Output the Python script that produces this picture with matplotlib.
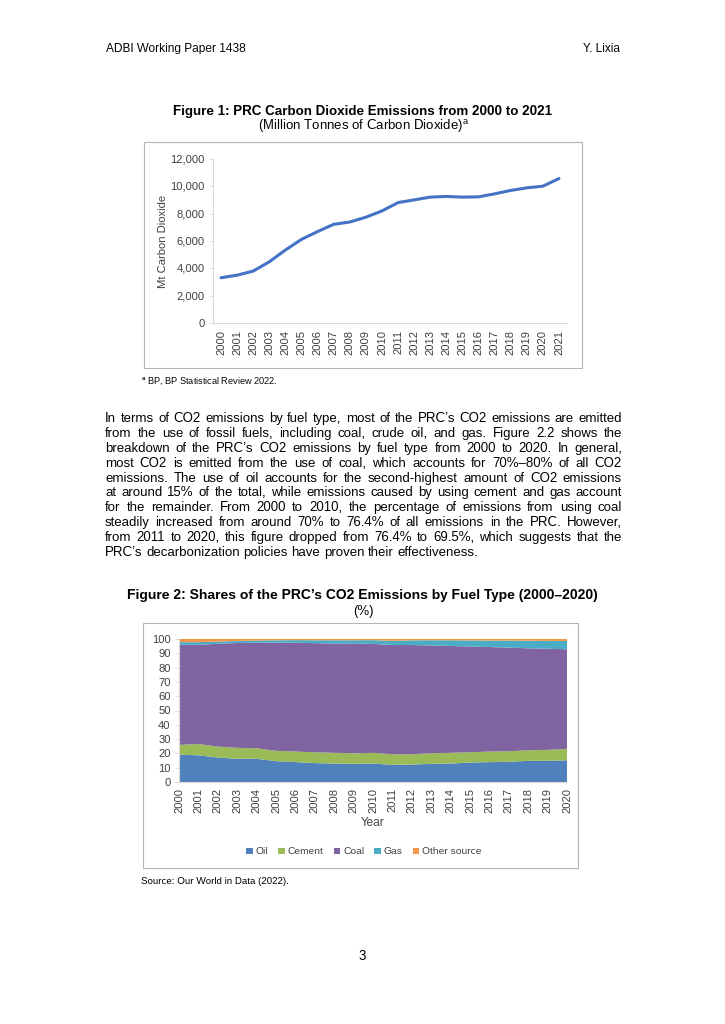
import numpy as np
import matplotlib
matplotlib.use("Agg")
import matplotlib.pyplot as plt
from matplotlib.patches import Rectangle
from matplotlib.ticker import FuncFormatter

plt.rcParams['font.family'] = ['Liberation Sans', 'DejaVu Sans']
plt.rcParams['mathtext.fontset'] = 'custom'
plt.rcParams['mathtext.rm'] = 'Liberation Sans'
plt.rcParams['text.hinting'] = 'no_autohint'

# figure 1 data (BP, Mt CO2)
years1 = [str(y) for y in range(2000, 2022)]
emissions = [3310, 3500, 3800, 4480, 5340, 6120, 6690, 7220, 7390, 7740, 8200,
             8810, 9010, 9210, 9260, 9210, 9230, 9450, 9700, 9890, 10010, 10570]

# figure 2 data (shares, %)
years2 = [str(y) for y in range(2000, 2021)]
oil = [19.1, 18.7, 17.1, 16.2, 16.2, 14.6, 13.9, 13.2, 12.9, 12.7, 12.9,
       12.0, 12.2, 12.7, 12.9, 13.6, 13.9, 14.1, 14.8, 14.8, 15.2]
cement = [6.8, 7.9, 7.7, 7.7, 7.4, 7.2, 7.4, 7.6, 7.5, 7.4, 7.5,
          7.4, 7.2, 7.4, 7.5, 7.2, 7.4, 7.4, 7.4, 7.7, 8.0]
coal = [70.0, 69.3, 71.9, 73.3, 73.8, 75.6, 76.1, 76.3, 76.4, 76.6, 76.2,
        76.4, 76.4, 75.4, 74.7, 74.0, 73.1, 72.5, 71.3, 70.7, 69.6]
gas = [1.9, 1.9, 1.5, 1.4, 1.5, 1.7, 1.8, 2.0, 2.3, 2.4, 2.6,
       2.9, 3.3, 3.6, 4.0, 4.2, 4.5, 4.9, 5.3, 5.5, 5.8]
other = [2.2, 2.2, 1.8, 1.4, 1.1, 0.9, 0.8, 0.9, 0.9, 0.9, 0.8,
         1.3, 0.9, 0.9, 0.9, 1.0, 1.1, 1.1, 1.2, 1.3, 1.4]
fuel_labels = ['Oil', 'Cement', 'Coal', 'Gas', 'Other source']
fuel_colors = ['#4F81BD', '#9BBB59', '#8064A2', '#4BACC6', '#F79646']

paragraph = [
    "In terms of CO2 emissions by fuel type, most of the PRC\u2019s CO2 emissions are emitted",
    "from the use of fossil fuels, including coal, crude oil, and gas. Figure 2.2 shows the",
    "breakdown of the PRC\u2019s CO2 emissions by fuel type from 2000 to 2020. In general,",
    "most CO2 is emitted from the use of coal, which accounts for 70%\u201380% of all CO2",
    "emissions. The use of oil accounts for the second-highest amount of CO2 emissions",
    "at around 15% of the total, while emissions caused by using cement and gas account",
    "for the remainder. From 2000 to 2010, the percentage of emissions from using coal",
    "steadily increased from around 70% to 76.4% of all emissions in the PRC. However,",
    "from 2011 to 2020, this figure dropped from 76.4% to 69.5%, which suggests that the",
    "PRC\u2019s decarbonization policies have proven their effectiveness.",
]

W, H = 725, 1024
fig = plt.figure(figsize=(7.25, 10.24), dpi=100)
renderer = fig.canvas.get_renderer()


def fx(x):
    return x / W


def fy(y):
    return 1 - y / H


def box(x0, y0, x1, y1):
    fig.patches.append(Rectangle((fx(x0), fy(y1)), fx(x1) - fx(x0), fy(y0) - fy(y1),
                                 transform=fig.transFigure, fill=False,
                                 edgecolor='#B4B4B4', lw=0.8))


def text_width(s, fs):
    t = fig.text(0, 0, s, fontsize=fs)
    w = t.get_window_extent(renderer).width
    t.remove()
    return w


tick_fs = 8.1
grey = '#D9D9D9'
lab = '#404040'

# page header
fig.text(fx(106), fy(49), "ADBI Working Paper 1438", fontsize=8.6, va='center')
fig.text(fx(620), fy(49), "Y. Lixia", fontsize=8.6, va='center', ha='right')

# ---- figure 1
fig.text(fx(363), fy(111), "Figure 1: PRC Carbon Dioxide Emissions from 2000 to 2021",
         fontsize=9.6, fontweight='bold', ha='center', va='center')
fig.text(fx(364), fy(126), r"(Million Tonnes of Carbon Dioxide)$^{\rm a}$",
         fontsize=9.5, ha='center', va='center')
box(144, 142, 582, 368)

ax1 = fig.add_axes([fx(213), fy(323), fx(567) - fx(213), fy(159) - fy(323)])
x1 = np.arange(len(years1))
ax1.plot(x1, emissions, color='#4472C4', lw=2.2, solid_capstyle='round')
ax1.set_xlim(-0.5, len(years1) - 0.5)
ax1.set_ylim(0, 12000)
ax1.set_yticks(range(0, 12001, 2000))
ax1.yaxis.set_major_formatter(FuncFormatter(lambda v, p: f"{int(v):,}"))
ax1.set_xticks(x1)
ax1.set_xticklabels(years1, rotation=90)
ax1.tick_params(axis='x', length=0, pad=5, labelsize=tick_fs, colors=lab)
ax1.tick_params(axis='y', length=3, width=0.6, color=grey, pad=3,
                labelsize=tick_fs, labelcolor=lab)
ax1.set_ylabel("Mt Carbon Dioxide", fontsize=tick_fs, color=lab)
ax1.yaxis.set_label_coords((168 - 213) / 354, 0.5)
for s in ['top', 'right']:
    ax1.spines[s].set_visible(False)
for s in ['left', 'bottom']:
    ax1.spines[s].set_color(grey)
    ax1.spines[s].set_linewidth(0.8)

fig.text(fx(141), fy(381), r"$^{\rm a}$ BP, BP Statistical Review 2022.", fontsize=6.6,
         va='center')

# ---- body paragraph, justified word by word
X0, X1 = 105, 622
nat = [text_width(l, 10) for l in paragraph[:-1]]
body_fs = min(9.5, 10 * (X1 - X0) / max(nat) * 0.99)
sp_w = text_width("a a", body_fs) - text_width("aa", body_fs)
for i, line in enumerate(paragraph):
    y = round(422 + i * 14.9)
    words = line.split(' ')
    ts = [fig.text(0, fy(y), w, fontsize=body_fs, va='baseline', ha='left') for w in words]
    ws = [t.get_window_extent(renderer).width for t in ts]
    if i == len(paragraph) - 1:
        gap = sp_w
    else:
        gap = (X1 - X0 - sum(ws)) / (len(words) - 1)
    xp = X0
    for t, w in zip(ts, ws):
        t.set_x(fx(xp))
        xp += w + gap

# ---- figure 2
fig.text(fx(362), fy(595), "Figure 2: Shares of the PRC\u2019s CO2 Emissions by Fuel Type (2000\u20132020)",
         fontsize=10.0, fontweight='bold', ha='center', va='center')
fig.text(fx(363), fy(611), "(%)", fontsize=9.5, ha='center', va='center')
box(143, 623, 578, 868)

ax2 = fig.add_axes([fx(179), fy(782), fx(567) - fx(179), fy(639) - fy(782)])
x2 = np.arange(len(years2))
polys = ax2.stackplot(x2, oil, cement, coal, gas, other, colors=fuel_colors,
                      labels=fuel_labels, lw=0)
ax2.set_xlim(0, len(years2) - 1)
ax2.set_ylim(0, 100)
ax2.set_yticks(range(0, 101, 10))
ax2.set_xticks(x2)
ax2.set_xticklabels(years2, rotation=90)
ax2.tick_params(axis='x', length=0, pad=4, labelsize=tick_fs, colors=lab)
ax2.tick_params(axis='y', length=3, width=0.6, color=grey, pad=3,
                labelsize=tick_fs, labelcolor=lab)
for s in ['top', 'right']:
    ax2.spines[s].set_visible(False)
for s in ['left', 'bottom']:
    ax2.spines[s].set_color(grey)
    ax2.spines[s].set_linewidth(0.8)
fig.text(fx(373), fy(822), "Year", fontsize=8.6, ha='center', va='center', color=lab)
ax2.legend(handles=polys, labels=fuel_labels, ncol=5, loc='center',
           bbox_to_anchor=(fx(364), fy(852)), bbox_transform=fig.transFigure,
           frameon=False, fontsize=7.4, handlelength=0.6, handleheight=0.6,
           handletextpad=0.3, columnspacing=1.0, labelcolor=lab)

fig.text(fx(141), fy(882), "Source: Our World in Data (2022).", fontsize=7.0, va='center')

fig.text(fx(362), fy(956), "3", fontsize=9.5, ha='center', va='center')

fig.savefig("out.png", dpi=100)
